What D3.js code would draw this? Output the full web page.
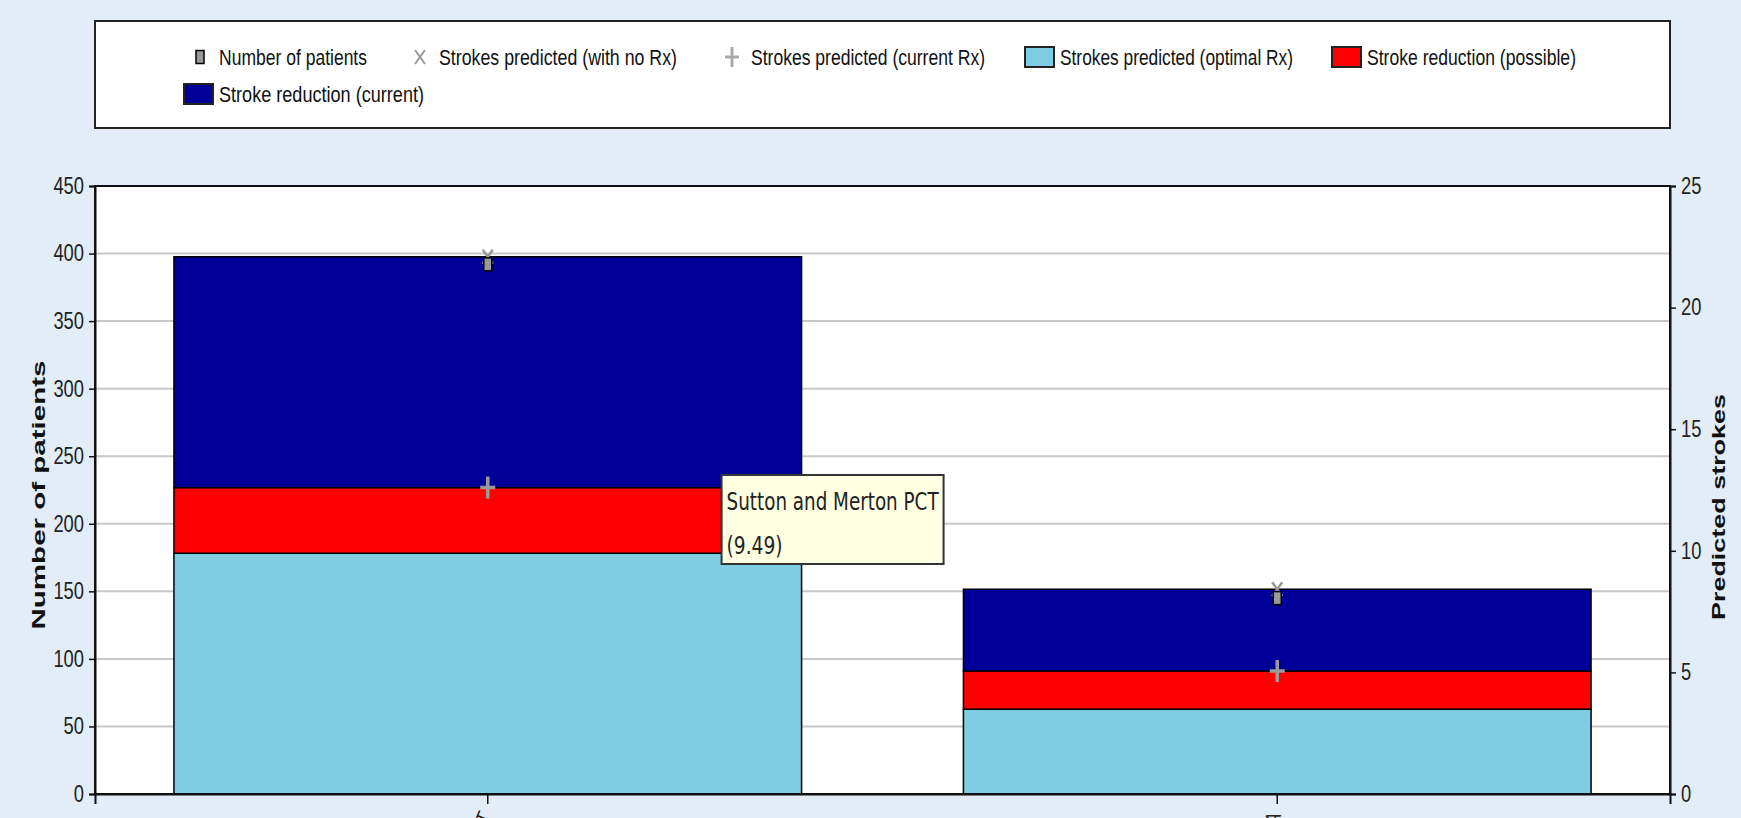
<!DOCTYPE html>
<html>
<head>
<meta charset="utf-8">
<script src="https://cdn.jsdelivr.net/npm/d3@7"></script>
<style>
  body { margin: 0; background: #e3edf8; }
  svg { display: block; }
  .tick text { font-family: "Liberation Sans Narrow", "Arial Narrow", "Liberation Sans", Arial, sans-serif; font-size: 23px; fill: #222; }
  .legend text { font-family: "Liberation Sans Narrow", "Arial Narrow", "Liberation Sans", Arial, sans-serif; font-size: 22px; fill: #111; }
</style>
</head>
<body>
<div class="chart"></div>
<script>
// Chart data
var categories = ["Sutton and Merton PCT", "London SHA"];
var patients = [392, 145];
var strokesNoRx = [22.09, 8.42];
var strokesCurrentRx = [12.6, 5.06];
var strokesOptimalRx = [9.9, 3.49];

var leftTicks = [0, 50, 100, 150, 200, 250, 300, 350, 400, 450];
var rightTicks = [0, 5, 10, 15, 20, 25];

var seriesNames = ["Number of patients", "Strokes predicted (with no Rx)", "Strokes predicted (current Rx)",
  "Strokes predicted (optimal Rx)", "Stroke reduction (possible)", "Stroke reduction (current)"];

var svgWidth = 1741;
var svgHeight = 818;

var margin = { top: 186, right: 71, bottom: 24, left: 95 };
var width = svgWidth - margin.left - margin.right;
var height = svgHeight - margin.top - margin.bottom;

var svg = d3.select(".chart")
  .append("svg")
  .attr("width", svgWidth)
  .attr("height", svgHeight);

svg.append("rect")
  .attr("width", svgWidth)
  .attr("height", svgHeight)
  .attr("fill", "#e3edf8");

// Build stacked table from the arrays
var table = categories.map(function (c, i) {
  return {
    name: c,
    optimal: strokesOptimalRx[i],
    possible: strokesCurrentRx[i] - strokesOptimalRx[i],
    current: strokesNoRx[i] - strokesCurrentRx[i],
    patients: patients[i],
    noRx: strokesNoRx[i],
    currentRx: strokesCurrentRx[i]
  };
});

var keys = ["optimal", "possible", "current"];
var colors = { optimal: "#7fcce3", possible: "#ff0000", current: "#000099" };

var stacked = d3.stack().keys(keys)(table);

// Scales
var xScale = d3.scaleBand()
  .domain(categories)
  .range([0, width])
  .paddingInner(0.205)
  .paddingOuter(0.1);

var yLeft = d3.scaleLinear().domain([0, 450]).range([height, 0]);
var yRight = d3.scaleLinear().domain([0, 25]).range([height, 0]);

var chartGroup = svg.append("g")
  .attr("transform", `translate(${margin.left}, ${margin.top})`);

chartGroup.append("rect")
  .attr("width", width)
  .attr("height", height)
  .attr("fill", "#ffffff");

// Gridlines
chartGroup.append("g")
  .selectAll("line")
  .data(leftTicks.slice(1, -1))
  .enter()
  .append("line")
  .attr("x1", 0)
  .attr("x2", width)
  .attr("y1", d => yLeft(d))
  .attr("y2", d => yLeft(d))
  .attr("stroke", "#c8c8c8")
  .attr("stroke-width", 2);

// Stacked bars
chartGroup.append("g")
  .selectAll("g")
  .data(stacked)
  .enter()
  .append("g")
  .attr("fill", d => colors[d.key])
  .selectAll("rect")
  .data(d => d)
  .enter()
  .append("rect")
  .attr("x", d => xScale(d.data.name))
  .attr("width", xScale.bandwidth())
  .attr("y", d => yRight(d[1]))
  .attr("height", d => yRight(d[0]) - yRight(d[1]))
  .attr("stroke", "#000")
  .attr("stroke-width", 1.5);

// Strokes predicted (no Rx) - x markers
var cx = d => xScale(d.name) + xScale.bandwidth() / 2;
chartGroup.append("g")
  .selectAll("path")
  .data(table)
  .enter()
  .append("path")
  .attr("d", d => {
    var x = cx(d), y = yRight(d.noRx);
    return `M${x - 5},${y - 7}L${x + 5},${y + 7}M${x + 5},${y - 7}L${x - 5},${y + 7}`;
  })
  .attr("stroke", "#999")
  .attr("stroke-width", 2.5);

// Strokes predicted (current Rx) - plus markers
chartGroup.append("g")
  .selectAll("path")
  .data(table)
  .enter()
  .append("path")
  .attr("d", d => {
    var x = cx(d), y = yRight(d.currentRx);
    return `M${x - 7.5},${y}L${x + 7.5},${y}M${x},${y - 11}L${x},${y + 11}`;
  })
  .attr("stroke", "#9a9a9a")
  .attr("stroke-width", 3.5);

// Number of patients - small squares
chartGroup.append("g")
  .selectAll("rect")
  .data(table)
  .enter()
  .append("rect")
  .attr("x", d => cx(d) - 4)
  .attr("y", d => yLeft(d.patients) - 6.5)
  .attr("width", 8)
  .attr("height", 13)
  .attr("fill", "#999")
  .attr("stroke", "#000")
  .attr("stroke-width", 1.5);

// Plot border
chartGroup.append("rect")
  .attr("width", width)
  .attr("height", height)
  .attr("fill", "none")
  .attr("stroke", "#111")
  .attr("stroke-width", 2);

// Axes
var leftAxis = d3.axisLeft(yLeft).tickValues(leftTicks).tickSize(6).tickPadding(5);
var rightAxis = d3.axisRight(yRight).tickValues(rightTicks).tickSize(6).tickPadding(5);
var bottomAxis = d3.axisBottom(xScale).tickSize(10).tickFormat("");

var gl = chartGroup.append("g").call(leftAxis);
var gr = chartGroup.append("g").attr("transform", `translate(${width}, 0)`).call(rightAxis);
var gb = chartGroup.append("g").attr("transform", `translate(0, ${height})`).call(bottomAxis);
[gl, gr, gb].forEach(function (g) {
  g.select(".domain").attr("stroke", "#111").attr("stroke-width", 2);
  g.selectAll(".tick line").attr("stroke", "#111").attr("stroke-width", 1.5);
});
// narrow, tall tick digits like the original
[gl, gr].forEach(function (g) {
  g.selectAll(".tick text")
    .attr("textLength", function () { return this.textContent.length * 10.2; })
    .attr("lengthAdjust", "spacingAndGlyphs");
});

// Category labels, rotated and cut off by the page bottom
gb.selectAll(".tick")
  .append("text")
  .attr("text-anchor", "end")
  .attr("transform", "translate(4, 21) rotate(-68)")
  .attr("fill", "#333")
  .style("font-family", "Liberation Sans Narrow, Arial, sans-serif")
  .style("font-size", "20px")
  .text(d => d);

// Axis titles
svg.append("text")
  .attr("transform", `translate(45, ${margin.top + height / 2 + 5}) rotate(-90)`)
  .attr("text-anchor", "middle")
  .attr("textLength", 269)
  .attr("lengthAdjust", "spacingAndGlyphs")
  .style("font-family", "Liberation Sans, Arial, sans-serif")
  .style("font-weight", "bold")
  .style("font-size", "18px")
  .attr("fill", "#111")
  .text("Number of patients");

svg.append("text")
  .attr("transform", `translate(1725, ${margin.top + height / 2 + 17}) rotate(-90)`)
  .attr("text-anchor", "middle")
  .attr("textLength", 226)
  .attr("lengthAdjust", "spacingAndGlyphs")
  .style("font-family", "Liberation Sans, Arial, sans-serif")
  .style("font-weight", "bold")
  .style("font-size", "18px")
  .attr("fill", "#111")
  .text("Predicted strokes");

// Legend
var legend = svg.append("g").attr("class", "legend");
legend.append("rect")
  .attr("x", 95)
  .attr("y", 21)
  .attr("width", 1575)
  .attr("height", 107)
  .attr("fill", "#fff")
  .attr("stroke", "#222")
  .attr("stroke-width", 2);

var legendItems = [
  { x: 200, y: 57, type: "square", len: 148 },
  { x: 420, y: 57, type: "x", len: 238 },
  { x: 732, y: 57, type: "plus", len: 234 },
  { x: 1040, y: 57, type: "optimal", len: 233 },
  { x: 1347, y: 57, type: "possible", len: 209 },
  { x: 199, y: 94, type: "current", len: 205 }
];

legendItems.forEach(function (it, i) {
  var g = legend.append("g").attr("transform", `translate(${it.x}, ${it.y})`);
  var tx = 19;
  if (it.type === "square") {
    g.append("rect").attr("x", -4).attr("y", -6.5).attr("width", 8).attr("height", 13)
      .attr("fill", "#999").attr("stroke", "#000").attr("stroke-width", 1.5);
  } else if (it.type === "x") {
    g.append("path").attr("d", "M-5,-7L5,7M5,-7L-5,7").attr("stroke", "#999").attr("stroke-width", 2);
  } else if (it.type === "plus") {
    g.append("path").attr("d", "M-7,0L7,0M0,-10L0,10").attr("stroke", "#aaa").attr("stroke-width", 3);
  } else {
    g.append("rect").attr("x", -15).attr("y", -10).attr("width", 29).attr("height", 20)
      .attr("fill", colors[it.type]).attr("stroke", "#222").attr("stroke-width", 2);
    tx = 20;
  }
  g.append("text")
    .attr("x", tx)
    .attr("y", 8)
    .attr("textLength", it.len)
    .attr("lengthAdjust", "spacingAndGlyphs")
    .text(seriesNames[i]);
});

// Tooltip for the hovered segment
var hovered = table[0];
var tipX = xScale(hovered.name) + xScale.bandwidth() + margin.left - 80;
var tipY = 475;
var tip = svg.append("g").attr("transform", `translate(${tipX}, ${tipY})`);
tip.append("rect")
  .attr("width", 222)
  .attr("height", 89)
  .attr("fill", "#ffffe1")
  .attr("stroke", "#333")
  .attr("stroke-width", 2);
tip.append("text")
  .attr("x", 5)
  .attr("y", 35)
  .attr("textLength", 212)
  .attr("lengthAdjust", "spacingAndGlyphs")
  .style("font-family", "DejaVu Sans, Verdana, sans-serif")
  .style("font-size", "25px")
  .attr("fill", "#222")
  .text(hovered.name);
tip.append("text")
  .attr("x", 5)
  .attr("y", 79)
  .attr("textLength", 56)
  .attr("lengthAdjust", "spacingAndGlyphs")
  .style("font-family", "DejaVu Sans, Verdana, sans-serif")
  .style("font-size", "25px")
  .attr("fill", "#222")
  .text(`(${d3.format(".2f")(hovered.current)})`);
</script>
</body>
</html>
